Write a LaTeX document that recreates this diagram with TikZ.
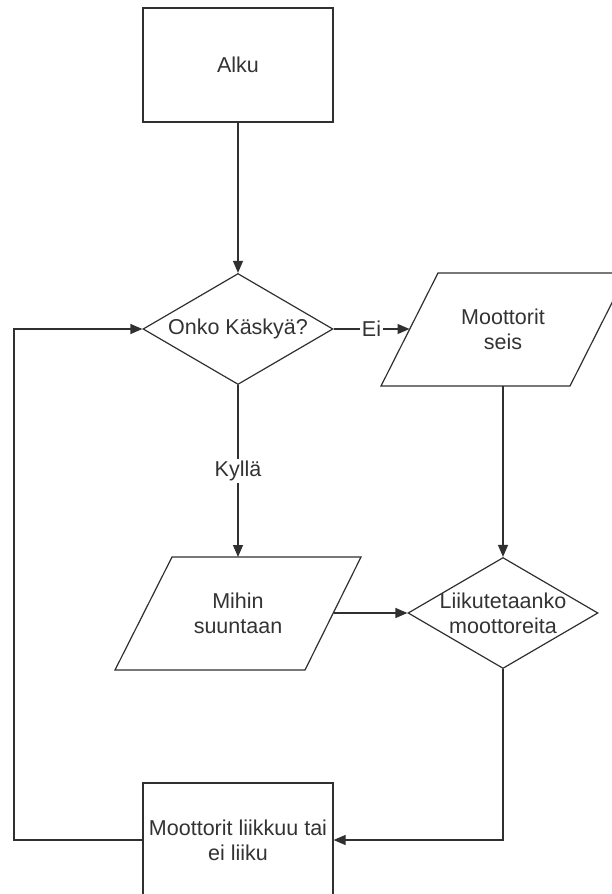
\documentclass[tikz,border=0pt]{standalone}
\usepackage{fontspec}
\setmainfont{Liberation Sans}
\usetikzlibrary{shapes.geometric,arrows.meta}
\definecolor{lc}{HTML}{303030}
\definecolor{tc}{HTML}{333333}
\newcommand{\fsz}{\fontsize{21.5}{25}\selectfont}
\begin{document}
\begin{tikzpicture}[x=1pt,y=-1pt,
  line/.style={draw=lc, line width=1.2pt},
  arr/.style={line, -{Triangle[length=12pt,width=10pt]}},
  box/.style={rectangle, draw=lc, line width=1.2pt, minimum width=190pt, minimum height=114pt, inner sep=0pt},
  dia/.style={diamond, draw=lc, line width=1.2pt, minimum width=190pt, minimum height=111pt, inner sep=0pt},
  parabox/.style={draw=lc, line width=1.2pt, line join=miter},
  txt/.style={text=tc, font=\fsz, align=center, inner sep=1pt},
  lbl/.style={txt, fill=white, inner sep=2pt}]
\useasboundingbox (0,0) rectangle (612,894);
\clip (0,0) rectangle (612,894);
\fill[white] (0,0) rectangle (612,894);
% shapes
\node[box] (alku) at (238,65) {};
\node[dia] (d1) at (238,329) {};
\draw[parabox] (381,386) -- (570,386) -- (627,273) -- (438,273) -- cycle;
\coordinate (p1w) at (409.5,329);
\coordinate (p1s) at (503,386);
\draw[parabox] (115,670) -- (305,670) -- (361,557) -- (172,557) -- cycle;
\coordinate (p2n) at (238,557);
\coordinate (p2e) at (333.5,613);
\node[dia] (d2) at (503,613) {};
\node[box] (b2) at (238,840) {};
% texts
\node[txt] (talku) at (alku) {Alku};
\node[txt] (td1) at (d1) {Onko Käskyä?};
\node[txt] (tp1) at (503,329) {Moottorit\\seis};
\node[txt] (tp2) at (238,613) {Mihin\\suuntaan};
\node[txt] (td2) at (d2) {Liikutetaanko\\moottoreita};
\node[txt] (tb2) at (b2) {Moottorit liikkuu tai\\ei liiku};
\coordinate (lc) at (14,840);
% connectors
\draw[arr] (alku.south) -- (d1.north);
\draw[arr] (d1.east) -- node[lbl] (ei) {Ei} (p1w);
\draw[arr] (d1.south) -- node[lbl] (kylla) {Kyllä} (p2n);
\draw[arr] (p1s) -- (d2.north);
\draw[arr] (p2e) -- (d2.west);
\draw[arr] (d2.south) |- (b2.east);
\draw[arr] (b2.west) -- (lc) |- (d1.west);
\end{tikzpicture}
\end{document}
